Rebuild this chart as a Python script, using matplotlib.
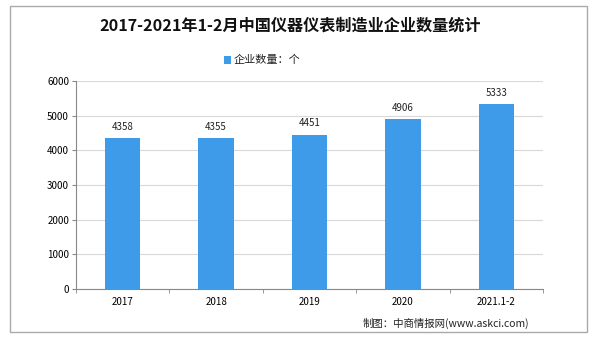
import matplotlib
matplotlib.use("Agg")
import matplotlib.pyplot as plt
from matplotlib.patches import Rectangle
import numpy as np

plt.rcParams['font.family'] = ['Noto Sans CJK SC', 'DejaVu Sans']

categories = ["2017", "2018", "2019", "2020", "2021.1-2"]
values = [4358, 4355, 4451, 4906, 5333]
yticks = [0, 1000, 2000, 3000, 4000, 5000, 6000]
title = "2017-2021年1-2月中国仪器仪表制造业企业数量统计"
legend_label = "企业数量：个"
source = "制图：中商情报网(www.askci.com)"

fig = plt.figure(figsize=(5.95, 3.42), dpi=100)
ax = fig.add_axes([76/595, 1-289/342, (543-76)/595, (289-81)/342])

x = np.arange(len(categories))
color = "#3d9be9"
ax.bar(x, values, width=0.38, color=color, zorder=3)
for xi, v in zip(x, values):
    ax.text(xi, v + 180, str(v), ha="center", va="bottom", fontsize=7, color="#222222")

ax.set_xlim(-0.5, len(categories) - 0.5)
ax.set_ylim(0, 6000)
ax.set_yticks(yticks)
ax.set_yticklabels([str(t) for t in yticks], fontsize=7)
ax.set_xticks(x)
ax.set_xticklabels(categories, fontsize=7)
ax.set_xticks(np.arange(-0.5, len(categories), 1.0), minor=True)
ax.tick_params(axis="x", which="major", length=0, pad=6)
ax.tick_params(axis="x", which="minor", length=3, color="#888888")
ax.tick_params(axis="y", length=3, color="#888888", pad=2)
ax.grid(axis="y", color="#d9d9d9", linewidth=0.8, zorder=0)
for s in ["top", "right"]:
    ax.spines[s].set_visible(False)
for s in ["left", "bottom"]:
    ax.spines[s].set_color("#888888")
    ax.spines[s].set_linewidth(0.8)

# border
fig.patches.append(Rectangle((10/595, 1-332/342), (587-10)/595, (332-6)/342,
                             transform=fig.transFigure, fill=False,
                             edgecolor="#aaaaaa", linewidth=1.0))

fig.text(0.487, 1-26/342, title, ha="center", va="center", fontsize=11.6, fontweight="bold", color="#111111")
# legend
fig.patches.append(Rectangle((224/595, 1-64/342), 7/595, 8/342, transform=fig.transFigure,
                             facecolor=color, edgecolor="none"))
fig.text(234/595, 1-60/342, legend_label, ha="left", va="center", fontsize=8, color="#222222")
fig.text(363/595, 1-323/342, source, ha="left", va="center", fontsize=7.5, color="#222222")

fig.savefig("out.png", dpi=100)
